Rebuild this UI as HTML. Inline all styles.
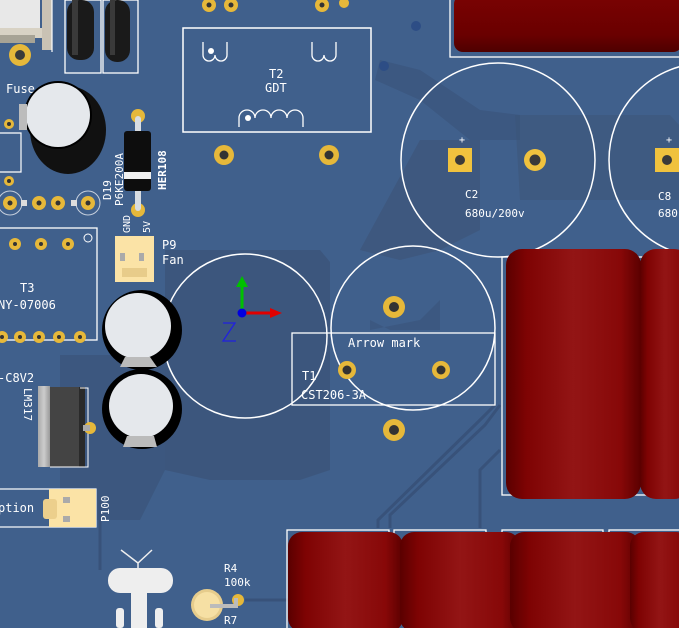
<!DOCTYPE html>
<html><head><meta charset="utf-8"><style>
html,body{margin:0;padding:0;background:#3f5f8b;}
svg{display:block}
text{font-family:"DejaVu Sans Mono","Liberation Mono",monospace;fill:#fff;}
</style></head><body>
<svg width="679" height="628" viewBox="0 0 679 628" xmlns="http://www.w3.org/2000/svg">
<defs>
<linearGradient id="red" x1="0" x2="1" y1="0" y2="0">
<stop offset="0" stop-color="#5a0000"/><stop offset="0.15" stop-color="#7e0303"/><stop offset="0.5" stop-color="#931515"/><stop offset="0.85" stop-color="#870808"/><stop offset="1" stop-color="#5a0000"/></linearGradient>
<linearGradient id="redv" x1="0" x2="0" y1="0" y2="1">
<stop offset="0" stop-color="#7a0202"/><stop offset="0.7" stop-color="#6a0000"/><stop offset="1" stop-color="#4e0000"/></linearGradient>
<linearGradient id="lm" x1="0" x2="1"><stop offset="0" stop-color="#aaa"/><stop offset="0.5" stop-color="#ccc"/><stop offset="1" stop-color="#999"/></linearGradient>
</defs>
<rect width="679" height="628" fill="#40608c"/>
<!-- copper pours -->
<path d="M165 250 L320 250 L330 262 L330 470 L300 480 L210 480 L165 470 Z" fill="#3b5479" opacity="0.8"/>
<path d="M60 355 L165 355 L165 470 L140 520 L60 520 Z" fill="#3b5479" opacity="0.7"/>
<path d="M420 140 L480 140 L480 230 L440 250 L400 260 L360 250 Z" fill="#3d5679" opacity="0.7"/>
<path d="M515 115 L670 115 L679 125 L679 200 L520 200 Z" fill="#3d5679" opacity="0.6"/>
<path d="M380 60 L420 70 L480 110 L520 115 L520 140 L470 140 L420 100 L375 80 Z" fill="#3b5479" opacity="0.6"/>
<path d="M370 320 L370 330 L420 320 L440 300 L440 330 L390 330 Z" fill="#3b5479" opacity="0.6"/>
<!-- traces -->
<g stroke="#38527a" stroke-width="3" fill="none">
<path d="M378 528 L378 520 L480 420 L495 405"/>
<path d="M390 528 L390 515 L485 425 L500 405"/>
<path d="M480 528 L480 470 L500 450"/>
<path d="M100 500 L100 570"/>
<path d="M245 600 L290 600"/>
</g>
<!-- top left fuse holder -->
<rect x="0" y="0" width="40" height="35" fill="#e8e8e8"/>
<rect x="0" y="28" width="50" height="10" fill="#d8d2c4"/>
<rect x="42" y="0" width="10" height="50" fill="#c9c2b4"/>
<rect x="0" y="35" width="35" height="8" fill="#a7a395"/>
<circle cx="20" cy="55" r="11" fill="#e6b83a"/><circle cx="20" cy="55" r="5" fill="#3a3a3a"/>
<line x1="52" y1="0" x2="52" y2="52" stroke="#fff" stroke-width="1.2"/>
<!-- two black components -->
<rect x="65" y="0" width="36" height="73" fill="none" stroke="#fff" stroke-width="1.3"/>
<rect x="103" y="0" width="35" height="73" fill="none" stroke="#fff" stroke-width="1.3"/>
<rect x="67" y="0" width="27" height="60" rx="12" fill="#1a1a1a"/>
<rect x="105" y="0" width="25" height="62" rx="12" fill="#1a1a1a"/>
<rect x="72" y="0" width="6" height="55" fill="#3a3a3a"/><rect x="110" y="0" width="5" height="55" fill="#3a3a3a"/>
<text x="6" y="93" font-size="12">Fuse</text>
<!-- big cap top left -->
<ellipse cx="68" cy="130" rx="38" ry="44" fill="#111"/>
<circle cx="58" cy="115" r="34" fill="#000"/>
<circle cx="58" cy="115" r="32" fill="#e5e8ec"/>
<rect x="19" y="104" width="8" height="26" fill="#bcbcbc"/>
<circle cx="9" cy="124" r="5" fill="#e6b83a"/><circle cx="9" cy="124" r="2" fill="#333"/>
<circle cx="9" cy="181" r="5" fill="#e6b83a"/><circle cx="9" cy="181" r="2" fill="#333"/>
<path d="M0 133 L21 133 L21 172 L0 172" fill="none" stroke="#fff" stroke-width="1.2"/>
<!-- row of pads -->
<g fill="#e6b83a"><circle cx="10" cy="203" r="7"/><circle cx="39" cy="203" r="7"/><circle cx="58" cy="203" r="7"/><circle cx="88" cy="203" r="7"/></g>
<g fill="#333"><circle cx="10" cy="203" r="2.5"/><circle cx="39" cy="203" r="2.5"/><circle cx="58" cy="203" r="2.5"/><circle cx="88" cy="203" r="2.5"/></g>
<circle cx="10" cy="203" r="12" fill="none" stroke="#fff" stroke-width="1" opacity="0.7"/>
<circle cx="88" cy="203" r="12" fill="none" stroke="#fff" stroke-width="1" opacity="0.7"/>
<rect x="21" y="200" width="6" height="6" fill="#ddd"/><rect x="71" y="200" width="6" height="6" fill="#ddd"/>
<!-- diode -->
<circle cx="138" cy="116" r="7" fill="#e6b83a"/><circle cx="138" cy="210" r="7" fill="#e6b83a"/>
<rect x="135" y="116" width="6" height="95" rx="3" fill="#d8dde2"/>
<rect x="124" y="131" width="27" height="60" rx="3" fill="#0d0d0d"/>
<rect x="124" y="172" width="27" height="7" fill="#f0f0f0"/>
<text font-size="11" transform="translate(111,200) rotate(-90)">D19</text>
<text font-size="11" transform="translate(123,206) rotate(-90)">P6KE200A</text>
<text font-size="11" font-weight="bold" transform="translate(166,190) rotate(-90)">HER108</text>
<!-- T3 -->
<rect x="-2" y="228" width="99" height="112" fill="none" stroke="#fff" stroke-width="1.3"/>
<circle cx="88" cy="238" r="4" fill="none" stroke="#fff" stroke-width="1"/>
<g fill="#e6b83a"><circle cx="15" cy="244" r="6"/><circle cx="41" cy="244" r="6"/><circle cx="68" cy="244" r="6"/></g>
<g fill="#333"><circle cx="15" cy="244" r="2"/><circle cx="41" cy="244" r="2"/><circle cx="68" cy="244" r="2"/></g>
<text x="20" y="292" font-size="12">T3</text>
<text x="-2" y="309" font-size="12">NY-07006</text>
<g fill="#e6b83a"><circle cx="2" cy="337" r="6"/><circle cx="20" cy="337" r="6"/><circle cx="39" cy="337" r="6"/><circle cx="59" cy="337" r="6"/><circle cx="80" cy="337" r="6"/></g>
<g fill="#333"><circle cx="2" cy="337" r="2"/><circle cx="20" cy="337" r="2"/><circle cx="39" cy="337" r="2"/><circle cx="59" cy="337" r="2"/><circle cx="80" cy="337" r="2"/></g>
<!-- P9 fan -->
<text font-size="10" transform="translate(130,233) rotate(-90)">GND</text>
<text font-size="10" transform="translate(150,233) rotate(-90)">5V</text>
<rect x="115" y="236" width="39" height="46" fill="#fbe3a6"/>
<rect x="120" y="253" width="5" height="8" fill="#aaa"/><rect x="139" y="253" width="5" height="8" fill="#aaa"/>
<rect x="122" y="268" width="25" height="9" fill="#e8cc8a"/>
<text x="162" y="249" font-size="12">P9</text>
<text x="162" y="264" font-size="12">Fan</text>
<!-- big silk circles -->
<circle cx="245" cy="336" r="82" fill="none" stroke="#fff" stroke-width="1.5"/>
<circle cx="413" cy="328" r="82" fill="none" stroke="#fff" stroke-width="1.5"/>
<!-- caps middle left -->
<circle cx="142" cy="330" r="40" fill="#000"/>
<circle cx="138" cy="326" r="33" fill="#e5e8ec"/>
<path d="M125 357 L150 357 L157 367 L120 367 Z" fill="#bbb"/>
<circle cx="142" cy="409" r="40" fill="#000"/>
<circle cx="141" cy="406" r="32" fill="#e5e8ec"/>
<path d="M127 436 L154 436 L157 447 L123 447 Z" fill="#bbb"/>
<!-- LM317 -->
<text x="-2" y="382" font-size="12">-C8V2</text>
<text font-size="11" transform="translate(24,388) rotate(90)">LM317</text>
<rect x="38" y="386" width="12" height="81" fill="url(#lm)"/>
<rect x="50" y="387" width="30" height="80" fill="#444"/>
<rect x="79" y="387" width="6" height="80" fill="#2a2a2a"/>
<path d="M80 388 L88 388 L88 467 L50 467" fill="none" stroke="#fff" stroke-width="1"/>
<circle cx="90" cy="428" r="6" fill="#e6b83a"/><rect x="83" y="425" width="7" height="6" fill="#aaa"/>
<!-- P100 -->
<rect x="-2" y="489" width="98" height="38" fill="none" stroke="#fff" stroke-width="1.2"/>
<rect x="49" y="489" width="47" height="38" fill="#fbe3a6"/>
<rect x="43" y="499" width="14" height="20" rx="3" fill="#eccf8c"/>
<rect x="63" y="497" width="7" height="6" fill="#aaa"/><rect x="63" y="516" width="7" height="6" fill="#aaa"/>
<text x="-2" y="512" font-size="12">ption</text>
<text font-size="11" transform="translate(109,522) rotate(-90)">P100</text>
<!-- transistor silk -->
<path d="M121 550 L138 563 L152 550 M138 563 L138 568" stroke="#eee" stroke-width="1.5" fill="none"/>
<rect x="108" y="568" width="65" height="25" rx="12" fill="#eee"/>
<rect x="131" y="590" width="16" height="38" fill="#eee"/>
<rect x="116" y="608" width="8" height="20" rx="3" fill="#eee"/>
<rect x="155" y="608" width="8" height="20" rx="3" fill="#eee"/>
<!-- R4 -->
<text x="224" y="572" font-size="11">R4</text>
<text x="224" y="586" font-size="11">100k</text>
<circle cx="207" cy="605" r="16" fill="#e6cc8c"/><circle cx="207" cy="605" r="13" fill="#f6e0a4"/>
<circle cx="238" cy="600" r="6" fill="#e6b83a"/>
<path d="M210 606 L236 606 L236 598" stroke="#bbb" stroke-width="4" fill="none"/>
<text x="224" y="624" font-size="11">R7</text>
<!-- T2 -->
<rect x="183" y="28" width="188" height="104" fill="none" stroke="#fff" stroke-width="1.5"/>
<path d="M203 42 L203 55 A6 6 0 0 0 215 55 A6 6 0 0 0 227 55 L227 42" stroke="#fff" stroke-width="1.3" fill="none"/>
<circle cx="211" cy="51" r="3" fill="#fff"/>
<path d="M312 42 L312 55 A6 6 0 0 0 324 55 A6 6 0 0 0 336 55 L336 42" stroke="#fff" stroke-width="1.3" fill="none"/>
<path d="M239 127 L239 118 A8 8 0 0 1 255 118 A8 8 0 0 1 271 118 A8 8 0 0 1 287 118 A8 8 0 0 1 303 118 L303 127" stroke="#fff" stroke-width="1.3" fill="none"/>
<circle cx="248" cy="118" r="3" fill="#fff"/>
<text x="269" y="78" font-size="12">T2</text>
<text x="265" y="92" font-size="12">GDT</text>
<g fill="#e6b83a"><circle cx="224" cy="155" r="10"/><circle cx="329" cy="155" r="10"/><circle cx="209" cy="5" r="7"/><circle cx="231" cy="5" r="7"/><circle cx="322" cy="5" r="7"/><circle cx="344" cy="3" r="5"/></g>
<g fill="#333"><circle cx="224" cy="155" r="4.5"/><circle cx="329" cy="155" r="4.5"/><circle cx="209" cy="5" r="2.5"/><circle cx="231" cy="5" r="2.5"/><circle cx="322" cy="5" r="2.5"/></g>
<circle cx="416" cy="26" r="5" fill="#2d4d85"/><circle cx="384" cy="66" r="5" fill="#2d4d85"/>
<!-- top red cap -->
<rect x="450" y="-2" width="232" height="59" fill="none" stroke="#fff" stroke-width="1.3"/>
<rect x="454" y="-5" width="228" height="57" rx="9" fill="url(#redv)"/>
<!-- C2 -->
<circle cx="498" cy="160" r="97" fill="none" stroke="#fff" stroke-width="1.5"/>
<rect x="448" y="148" width="24" height="24" fill="#f0c23e"/><circle cx="460" cy="160" r="5" fill="#3a3a3a"/>
<circle cx="535" cy="160" r="11" fill="#f0c23e"/><circle cx="535" cy="160" r="5.5" fill="#3a3a3a"/>
<text x="459" y="143" font-size="10">+</text>
<text x="465" y="198" font-size="11">C2</text>
<text x="465" y="217" font-size="11">680u/200v</text>
<!-- C8 -->
<circle cx="706" cy="160" r="97" fill="none" stroke="#fff" stroke-width="1.5"/>
<rect x="655" y="148" width="24" height="24" fill="#f0c23e"/><circle cx="667" cy="160" r="5" fill="#3a3a3a"/>
<text x="666" y="143" font-size="10">+</text>
<text x="658" y="200" font-size="11">C8</text>
<text x="658" y="217" font-size="11">680</text>
<!-- T1 -->
<rect x="292" y="333" width="203" height="72" fill="none" stroke="#fff" stroke-width="1.3"/>
<text x="348" y="347" font-size="12">Arrow mark</text>
<text x="302" y="380" font-size="12">T1</text>
<text x="301" y="399" font-size="12">CST206-3A</text>
<g fill="#e6b83a"><circle cx="394" cy="307" r="11"/><circle cx="347" cy="370" r="9"/><circle cx="441" cy="370" r="9"/><circle cx="394" cy="430" r="11"/></g>
<g fill="#333"><circle cx="394" cy="307" r="5"/><circle cx="347" cy="370" r="4.5"/><circle cx="441" cy="370" r="4.5"/><circle cx="394" cy="430" r="5"/></g>
<!-- right red caps -->
<rect x="502" y="257" width="180" height="238" fill="none" stroke="#fff" stroke-width="1.3"/>
<rect x="506" y="249" width="135" height="250" rx="16" fill="url(#red)"/>
<rect x="640" y="249" width="50" height="250" rx="16" fill="url(#red)"/>
<!-- bottom red caps -->
<g fill="none" stroke="#fff" stroke-width="1.3">
<rect x="287" y="530" width="102" height="110"/><rect x="394" y="530" width="92" height="110"/><rect x="502" y="530" width="101" height="110"/><rect x="609" y="530" width="80" height="110"/></g>
<rect x="288" y="532" width="115" height="100" rx="14" fill="url(#red)"/>
<rect x="400" y="532" width="120" height="100" rx="14" fill="url(#red)"/>
<rect x="510" y="532" width="130" height="100" rx="14" fill="url(#red)"/>
<rect x="630" y="532" width="60" height="100" rx="14" fill="url(#red)"/>
<!-- axis -->
<line x1="242" y1="313" x2="242" y2="285" stroke="#00c000" stroke-width="3"/>
<path d="M236 287 L242 276 L248 287 Z" fill="#00c000"/>
<line x1="242" y1="313" x2="272" y2="313" stroke="#e00000" stroke-width="3"/>
<path d="M270 308 L282 313 L270 318 Z" fill="#e00000"/>
<circle cx="242" cy="313" r="4.5" fill="#0000e0"/>
<path d="M223 323 L235 323 L223 341 L236 341" stroke="#2020e0" stroke-width="1.3" fill="none"/>
</svg>
</body></html>
